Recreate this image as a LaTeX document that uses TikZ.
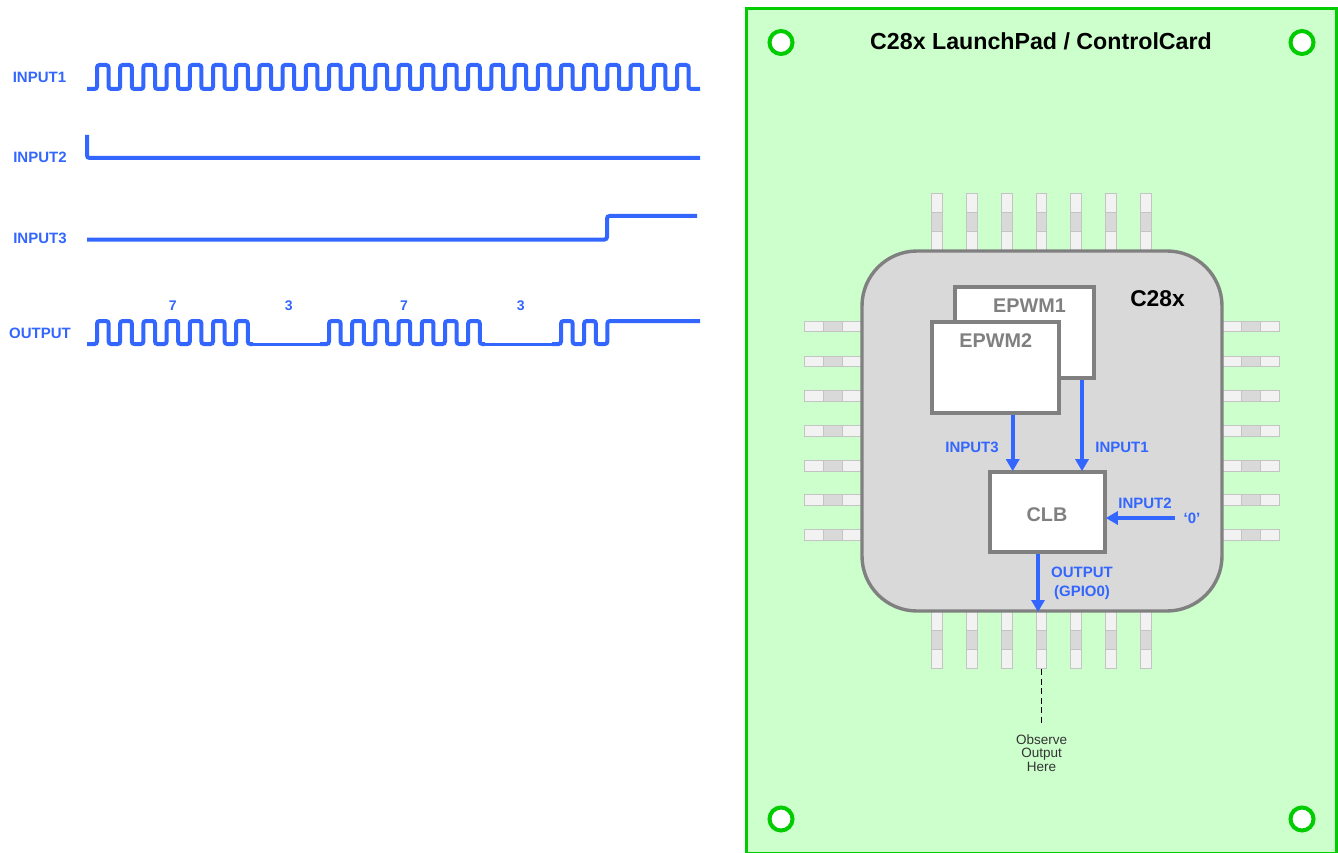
\documentclass[tikz,border=0pt]{standalone}
\usepackage{fontspec}
\setmainfont{Liberation Sans}
\usetikzlibrary{arrows.meta}
\definecolor{wave}{HTML}{3366FF}
\definecolor{boardgreen}{HTML}{00CC00}
\definecolor{boardfill}{HTML}{CCFFCC}
\definecolor{chipfill}{HTML}{D9D9D9}
\definecolor{chipline}{HTML}{808080}
\definecolor{pinlight}{HTML}{F2F2F2}
\definecolor{pinline}{HTML}{C4C4C4}
\tikzset{
  trace/.style={wave,line width=4pt,rounded corners=2.5pt},
  tracethin/.style={wave,line width=3pt},
  signal/.style={-{Triangle[length=12pt,width=13pt]},wave,line width=4pt,shorten >=-1pt},
  hole/.style={draw=boardgreen,line width=4pt,fill=white},
  block/.style={rectangle,draw=chipline,line width=3.6pt,fill=white},
  blocktext/.style={font=\fontsize{19.8}{22}\selectfont\bfseries,text=chipline},
  bluetext/.style={font=\fontsize{15}{18.5}\selectfont\bfseries,text=wave,align=center,inner sep=0pt},
  countlabel/.style={font=\fontsize{14}{16}\selectfont\bfseries,text=wave,inner sep=0pt},
  pinend/.style={draw=pinline,line width=1pt,fill=pinlight},
  pinmid/.style={draw=pinline,line width=1pt,fill=chipfill},
  pin/.pic={
    \draw[pinend] (0,-5.4) rectangle (19.3,5.4);
    \draw[pinend] (38.7,-5.4) rectangle (57.5,5.4);
    \draw[pinmid] (19.3,-5.4) rectangle (38.7,5.4);
  }
}

\begin{document}
\begin{tikzpicture}[x=1pt,y=-1pt]
  \useasboundingbox (0,0) rectangle (1338,853);

  % waveforms
  \node[bluetext] (lblin1) at (39.5,77) {INPUT1};
  \node[bluetext] (lblin2) at (40,157) {INPUT2};
  \node[bluetext] (lblin3) at (40,238) {INPUT3};
  \node[bluetext] (lblout) at (40,333) {OUTPUT};
  \draw[trace] (87,89) foreach \k in {0,...,25} {
    -- ({97+23.2*\k},89) -- ({97+23.2*\k},65) -- ({108.6+23.2*\k},65) -- ({108.6+23.2*\k},89)
  } -- (700,89);
  \draw[trace] (87,135) -- (87,158) -- (700,158);
  \draw[trace] (87,239.5) -- (607,239.5) -- (607,216) -- (697,216);
  \draw[tracethin] (250,344) -- (324,344);
  \draw[tracethin] (482,344) -- (556,344);
  \draw[trace] (87,344) foreach \k in {0,...,6} {
    -- ({97+23.2*\k},344) -- ({97+23.2*\k},321) -- ({108.6+23.2*\k},321) -- ({108.6+23.2*\k},344)
  } -- (253,344);
  \draw[trace] (320,344) foreach \k in {10,...,16} {
    -- ({97+23.2*\k},344) -- ({97+23.2*\k},321) -- ({108.6+23.2*\k},321) -- ({108.6+23.2*\k},344)
  } -- (485,344);
  \draw[trace] (552,344) foreach \k in {20,21} {
    -- ({97+23.2*\k},344) -- ({97+23.2*\k},321) -- ({108.6+23.2*\k},321) -- ({108.6+23.2*\k},344)
  } -- (607.4,344) -- (607.4,321) -- (700,321);
  \node[countlabel] (cnta) at (172.7,306) {7};
  \node[countlabel] (cntb) at (288.7,306) {3};
  \node[countlabel] (cntc) at (404,306) {7};
  \node[countlabel] (cntd) at (520.7,306) {3};

  % board
  \draw[draw=boardgreen,line width=3pt,fill=boardfill] (746.5,8.5) rectangle (1336,853);
  \node[hole,circle,minimum size=23pt,inner sep=0pt] (holea) at (781,42.5) {};
  \node[hole,circle,minimum size=23pt,inner sep=0pt] (holeb) at (1302,42.5) {};
  \node[hole,circle,minimum size=23pt,inner sep=0pt] (holec) at (781,819) {};
  \node[hole,circle,minimum size=23pt,inner sep=0pt] (holed) at (1302,819) {};
  \node[font=\fontsize{23.2}{26}\selectfont\bfseries] (title) at (1041,41) {C28x LaunchPad / ControlCard};

  % chip
  \foreach \px in {937,972,1007,1041.5,1076,1111,1146} {
    \pic[rotate=90] at (\px,251) {pin};
    \pic[rotate=-90] at (\px,611) {pin};
  }
  \foreach \py in {326.5,361.5,396,431,465.7,500,535} {
    \pic[rotate=180] at (862,\py) {pin};
    \pic at (1222,\py) {pin};
  }
  \draw[draw=chipline,line width=3.4pt,fill=chipfill,rounded corners=55pt] (862,251) rectangle (1222,611);
  \node[font=\fontsize{22.8}{26}\selectfont\bfseries] (chipname) at (1157.5,299) {C28x};

  \node[block,minimum width=139pt,minimum height=91pt] (epwma) at (1024.5,332.5) {};
  \node[blocktext] (epwmatext) at (1029.5,306) {EPWM1};
  \node[block,minimum width=127pt,minimum height=91pt] (epwmb) at (995.5,367.5) {};
  \node[blocktext] (epwmbtext) at (995.7,341) {EPWM2};
  \node[block,minimum width=115pt,minimum height=80pt] (clb) at (1047.5,512) {};
  \node[blocktext] (clbtext) at (1047,515) {CLB};

  % signals
  \coordinate (tapa) at (1082,470);
  \coordinate (tapb) at (1012.7,470);
  \coordinate (tapc) at (1038,611);
  \node[bluetext,inner xsep=8.5pt] (zero) at (1192,518) {`0'};
  \draw[signal] (epwma.south -| tapa) -- (clb.north -| tapa);
  \draw[signal] (epwmb.south -| tapb) -- (clb.north -| tapb);
  \draw[signal] (zero.west) -- (clb.east |- zero.west);
  \draw[signal] (clb.south -| tapc) -- (tapc);
  \node[bluetext] (lblinputa) at (1122,447) {INPUT1};
  \node[bluetext] (lblinputc) at (972,447) {INPUT3};
  \node[bluetext] (lblinputb) at (1145,503) {INPUT2};
  \node[bluetext] (lbloutput) at (1082,583.5) {OUTPUT\\(GPIO0)};

  % probe
  \coordinate (probe) at (1041.5,669);
  \node[font=\fontsize{13.5}{13.5}\selectfont,align=center,inner sep=0pt,text=black!80] (observe) at (1041.5,753) {Observe\\Output\\Here};
  \draw[black,line width=1.6pt,dash pattern=on 6pt off 3.6pt] (probe) -- (probe |- 0,725);
\end{tikzpicture}
\end{document}
